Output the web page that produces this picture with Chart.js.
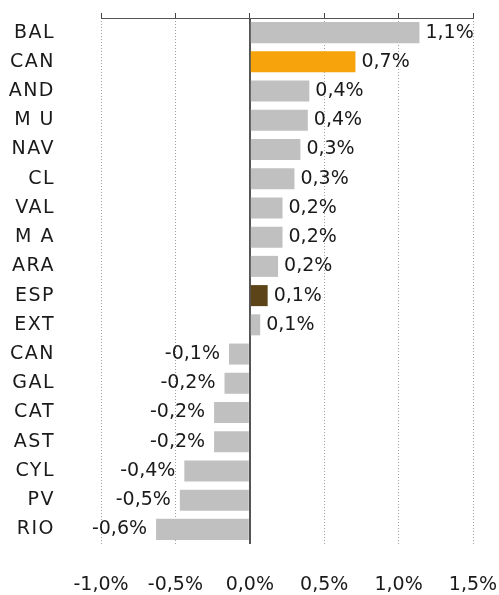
<!DOCTYPE html>
<html>
<head>
<meta charset="utf-8">
<script src="https://cdn.jsdelivr.net/npm/chart.js@4/dist/chart.umd.min.js"></script>
<style>
  html, body { margin: 0; padding: 0; background: #fff; }
  #wrap { width: 499px; height: 595px; }
</style>
</head>
<body>
<div id="wrap"><canvas id="graficoRegioes"></canvas></div>
<script>
// comunidades autónomas, de arriba abajo
const regioes = ['BAL', 'CAN', 'AND', 'M U', 'NAV', 'CL', 'VAL', 'M A', 'ARA',
    'ESP', 'EXT', 'CAN', 'GAL', 'CAT', 'AST', 'CYL', 'PV', 'RIO']
// variación (%)
const variacao = [1.14, 0.71, 0.40, 0.39, 0.34, 0.30, 0.22, 0.22, 0.19,
    0.12, 0.07, -0.14, -0.17, -0.24, -0.24, -0.44, -0.47, -0.63]
const ticksX = [-1.0, -0.5, 0.0, 0.5, 1.0, 1.5]

const corTexto = '#1a1a1a'
const fonte = { family: "'DejaVu Sans', sans-serif", size: 19 }

function formatarPct(v) {
    return v.toFixed(1).replace('.', ',') + '%'
}

function corBarra(i) {
    if (regioes[i] == 'ESP') return '#5c4418'
    if (i == 1) return '#f6a30c'
    return '#c0c0c0'
}

function ehZero(c) {
    return c.tick && c.tick.value == 0
}

// rótulos de valor ao lado de cada barra
const rotulosValor = {
    id: 'rotulosValor',
    afterDatasetsDraw(chart) {
        const ctx = chart.ctx
        const meta = chart.getDatasetMeta(0)
        ctx.save()
        ctx.font = `${fonte.size}px ${fonte.family}`
        ctx.fillStyle = corTexto
        ctx.textBaseline = 'middle'
        meta.data.forEach((bar, i) => {
            const v = variacao[i]
            if (v >= 0) {
                ctx.textAlign = 'left'
                ctx.fillText(formatarPct(v), bar.x + 6, bar.y)
            } else {
                ctx.textAlign = 'right'
                ctx.fillText(formatarPct(v), bar.x - 9, bar.y)
            }
        })
        ctx.restore()
    }
}

const grafico = new Chart(document.getElementById('graficoRegioes'), {
    type: 'bar',
    data: {
        labels: regioes,
        datasets: [{
            data: variacao,
            backgroundColor: regioes.map((r, i) => corBarra(i)),
            borderWidth: 0,
            barPercentage: 0.72,
            categoryPercentage: 1
        }]
    },
    options: {
        indexAxis: 'y',
        responsive: true,
        maintainAspectRatio: false,
        animation: false,
        layout: {
            padding: { left: 8, right: 26, top: 13, bottom: 0 }
        },
        plugins: {
            legend: { display: false },
            tooltip: { enabled: false }
        },
        scales: {
            x: {
                type: 'linear',
                position: 'bottom',
                min: -1,
                max: 1.5,
                afterBuildTicks: (scale) => { scale.ticks = ticksX.map(v => ({ value: v })) },
                afterFit: (scale) => {
                    scale.height = 51
                    scale.paddingLeft = 0
                    scale.paddingRight = 0
                },
                ticks: {
                    color: corTexto,
                    font: fonte,
                    padding: 30,
                    maxRotation: 0,
                    callback: (v) => formatarPct(v)
                },
                grid: {
                    drawTicks: false,
                    color: (c) => ehZero(c) ? '#555555' : '#a0a0a0',
                    lineWidth: (c) => ehZero(c) ? 2 : 1
                },
                border: {
                    display: false,
                    dash: (c) => ehZero(c) ? [] : [1, 2]
                }
            },
            xTopo: {
                type: 'linear',
                position: 'top',
                min: -1,
                max: 1.5,
                afterBuildTicks: (scale) => { scale.ticks = ticksX.map(v => ({ value: v })) },
                afterFit: (scale) => {
                    scale.height = 5
                    scale.paddingLeft = 0
                    scale.paddingRight = 0
                },
                ticks: { display: false },
                grid: {
                    drawOnChartArea: false,
                    drawTicks: true,
                    tickLength: 5,
                    tickColor: '#444444',
                    tickWidth: 1
                },
                border: { display: true, color: '#555555', width: 1 }
            },
            y: {
                ticks: {
                    color: corTexto,
                    font: fonte,
                    padding: 38
                },
                afterFit: (scale) => {
                    scale.width = 93
                    scale.paddingTop = 0
                    scale.paddingBottom = 0
                },
                afterUpdate: (scale) => {
                    // rótulos das regiões com letras um pouco espaçadas
                    if (scale._labelsLargos) return
                    scale._labelsLargos = true
                    const desenhar = scale.drawLabels
                    scale.drawLabels = function (area) {
                        this.ctx.save()
                        this.ctx.letterSpacing = '1.5px'
                        desenhar.call(this, area)
                        this.ctx.restore()
                    }
                },
                grid: { display: false },
                border: { display: false }
            }
        }
    },
    plugins: [rotulosValor]
})
</script>
</body>
</html>
